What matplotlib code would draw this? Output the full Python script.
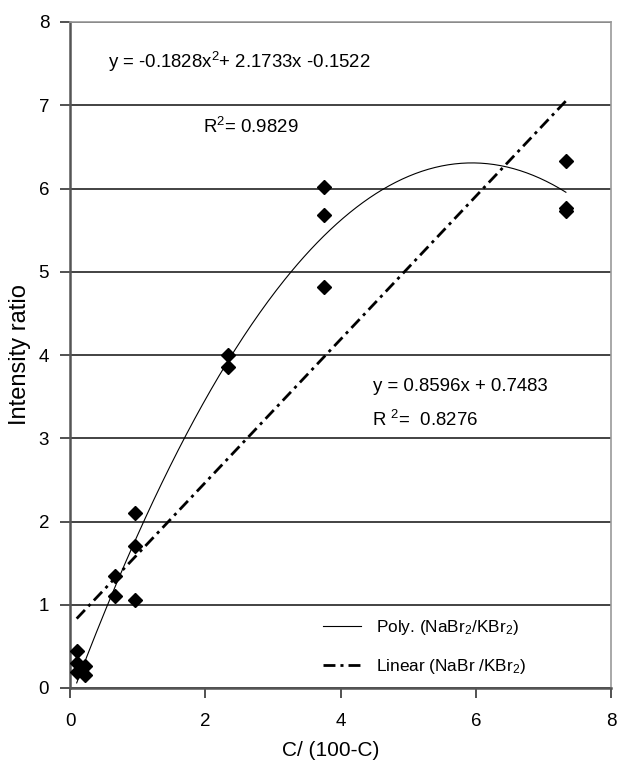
import matplotlib
matplotlib.use("Agg")
import matplotlib.pyplot as plt
import numpy as np

plt.rcParams['font.family'] = ['Liberation Sans', 'DejaVu Sans']
plt.rcParams['mathtext.fontset'] = 'custom'
plt.rcParams['mathtext.rm'] = 'Liberation Sans'
plt.rcParams['mathtext.it'] = 'Liberation Sans:italic'
plt.rcParams['mathtext.bf'] = 'Liberation Sans:bold'

# data
x_vals = [0.099, 0.099, 0.099, 0.22, 0.22, 0.667, 0.667, 0.96, 0.96, 0.96,
          2.333, 2.333, 3.762, 3.762, 3.762, 7.333, 7.333, 7.333]
y_vals = [0.44, 0.30, 0.19, 0.27, 0.16, 1.35, 1.10, 2.10, 1.71, 1.06,
          4.00, 3.85, 6.02, 5.68, 4.82, 6.33, 5.77, 5.73]
poly_coef = [-0.1828, 2.1733, -0.1522]
lin_coef = [0.8596, 0.7483]
x_ticks = [0, 2, 4, 6, 8]
y_ticks = [0, 1, 2, 3, 4, 5, 6, 7, 8]

W, H = 618, 763
fig = plt.figure(figsize=(W / 100, H / 100), dpi=100)
ax = fig.add_axes([70 / W, (H - 688) / H, 541 / W, 666 / H])

xs = np.linspace(min(x_vals), max(x_vals), 300)
ax.plot(xs, np.polyval(poly_coef, xs), color='black', lw=0.8,
        label='Poly. (NaBr$_2$/KBr$_2$)', zorder=3)
ax.plot(xs, np.polyval(lin_coef, xs), color='black', lw=2.0,
        linestyle=(0, (4.3, 1.8, 1.1, 1.8)),
        label='Linear (NaBr /KBr$_2$)', zorder=3)
ax.plot(x_vals, y_vals, linestyle='none', marker='D', color='black',
        markersize=7.5, zorder=4)

ax.set_xlim(0, 8)
ax.set_ylim(0, 8)
ax.set_xticks(x_ticks)
ax.set_yticks(y_ticks)
ax.yaxis.grid(True, color='#222222', lw=1.2)
ax.set_axisbelow(True)
ax.tick_params(direction='out', length=7, width=1.2, labelsize=13.5,
               color='#333333', pad=8)
ax.tick_params(axis='x', pad=11)
for s in ['left', 'bottom']:
    ax.spines[s].set_color('#555555')
    ax.spines[s].set_linewidth(1.8)
for s in ['top', 'right']:
    ax.spines[s].set_color('#999999')
    ax.spines[s].set_linewidth(1.2)

ax.set_xlabel('C/ (100-C)', fontsize=15, labelpad=10)
ax.xaxis.set_label_coords((331 - 70) / 541, -(751 - 688) / 666)
ax.xaxis.label.set_va('center')
ax.set_ylabel('Intensity ratio', fontsize=17)
ax.yaxis.set_label_coords(-(70 - 20) / 541, 0.5)
ax.yaxis.label.set_va('center')

eq_fs = 13.4
ax.text(0.56, 7.52, 'y = -0.1828x$^2$+ 2.1733x -0.1522', fontsize=eq_fs, va='center')
ax.text(1.97, 6.74, 'R$^2$= 0.9829', fontsize=eq_fs, va='center')
ax.text(4.48, 3.62, 'y = 0.8596x + 0.7483', fontsize=eq_fs, va='center')
ax.text(4.47, 3.22, 'R $^2$=  0.8276', fontsize=eq_fs, va='center')

ax.legend(loc='upper left', bbox_to_anchor=((323 - 70) / 541, (688 - 618) / 666),
          frameon=False, fontsize=12.4, borderpad=0, borderaxespad=0,
          handlelength=2.2, handletextpad=0.85, labelspacing=1.15)

fig.savefig('out.png', dpi=100)
